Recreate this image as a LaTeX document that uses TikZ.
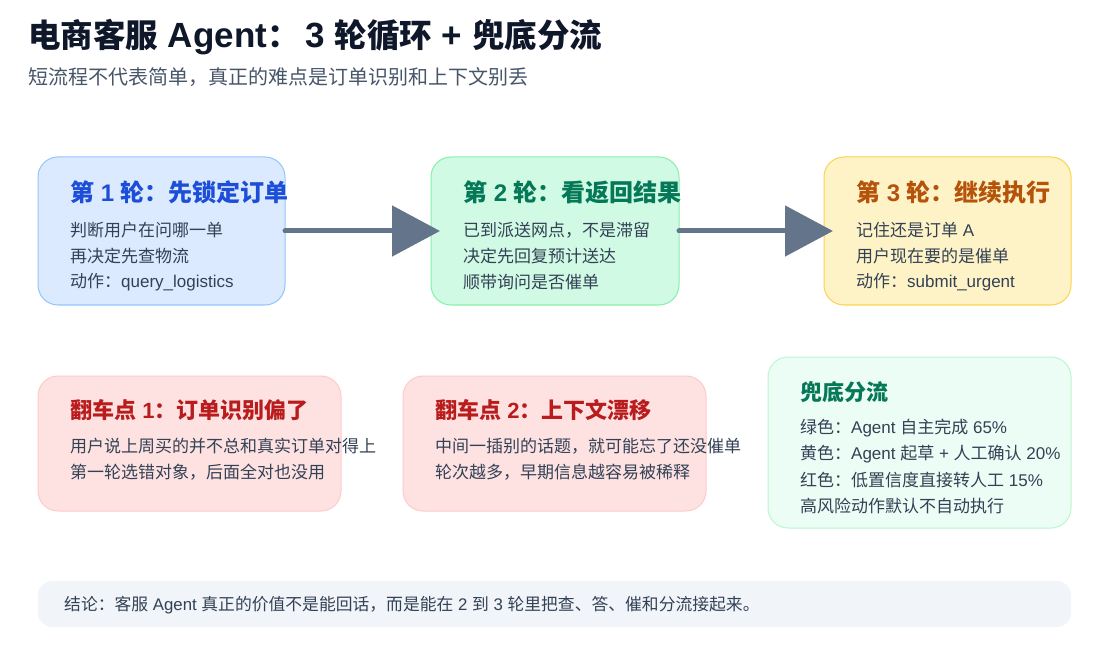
\documentclass[tikz,border=0pt]{standalone}
\usepackage{fontspec}
\setmainfont{Noto Sans CJK SC}
\newfontfamily\latfont{Liberation Sans}
\newcommand{\en}[1]{{\latfont #1}}
\newcommand{\enbig}[1]{{\latfont\fontsize{35}{38}\selectfont #1}}
\usetikzlibrary{arrows.meta}
\definecolor{titlec}{HTML}{0F172A}
\definecolor{subc}{HTML}{475569}
\definecolor{bodyc}{HTML}{334155}
\definecolor{arrowc}{HTML}{64748B}
\definecolor{bluef}{HTML}{DBEAFE}
\definecolor{blued}{HTML}{93C5FD}
\definecolor{bluet}{HTML}{1D4ED8}
\definecolor{greenf}{HTML}{D1FAE5}
\definecolor{greend}{HTML}{86EFAC}
\definecolor{greent}{HTML}{047857}
\definecolor{yellowf}{HTML}{FEF3C7}
\definecolor{yellowd}{HTML}{FCD34D}
\definecolor{yellowt}{HTML}{B45309}
\definecolor{redf}{HTML}{FEE2E2}
\definecolor{redd}{HTML}{FECACA}
\definecolor{redt}{HTML}{B91C1C}
\definecolor{lgreenf}{HTML}{ECFDF5}
\definecolor{lgreend}{HTML}{BBF7D0}
\definecolor{barf}{HTML}{F1F5F9}
\tikzset{
  card/.style={draw, line width=1pt, rounded corners=20pt, inner sep=0pt, outer sep=0pt},
  cardtitle/.style={anchor=west, inner sep=0pt, font=\fontsize{24}{28}\selectfont\bfseries},
  cardbody/.style={anchor=west, inner sep=0pt, text=bodyc, font=\fontsize{17}{20}\selectfont},
  flow/.style={draw=arrowc, line width=5pt, line cap=round, -{Triangle[length=48pt,width=50pt]}}
}
\begin{document}
\begin{tikzpicture}[x=1pt,y=-1pt]
\useasboundingbox[fill=white] (0,0) rectangle (1101,647);
% title
\node[anchor=west, inner sep=0pt, text=titlec, font=\fontsize{32.5}{36}\selectfont\bfseries] (title) at (28,37) {电商客服\enbig{ Agent}：\hspace{6pt}\enbig{3 }轮循环\enbig{ + }兜底分流};
\node[anchor=west, inner sep=0pt, text=subc, font=\fontsize{20}{24}\selectfont] (sub) at (28,77) {短流程不代表简单，真正的难点是订单识别和上下文别丢};
% round cards
\node[card, fill=bluef, draw=blued, minimum width=247pt, minimum height=148pt] (r1) at (161.5,231) {};
\node[card, fill=greenf, draw=greend, minimum width=248pt, minimum height=148pt] (r2) at (555,231) {};
\node[card, fill=yellowf, draw=yellowd, minimum width=247pt, minimum height=148pt] (r3) at (947.5,231) {};
\node[cardtitle, text=bluet] (r1t) at (70,192) {第\en{ 1 }轮：先锁定订单};
\node[cardbody] (r1a) at (70,230) {判断用户在问哪一单};
\node[cardbody] (r1b) at (70,256) {再决定先查物流};
\node[cardbody] (r1c) at (70,282) {动作：\en{query\_logistics}};
\node[cardtitle, text=greent] (r2t) at (463,192) {第\en{ 2 }轮：看返回结果};
\node[cardbody] (r2a) at (463,230) {已到派送网点，不是滞留};
\node[cardbody] (r2b) at (463,256) {决定先回复预计送达};
\node[cardbody] (r2c) at (463,282) {顺带询问是否催单};
\node[cardtitle, text=yellowt] (r3t) at (856,192) {第\en{ 3 }轮：继续执行};
\node[cardbody] (r3a) at (856,230) {记住还是订单\en{ A}};
\node[cardbody] (r3b) at (856,256) {用户现在要的是催单};
\node[cardbody] (r3c) at (856,282) {动作：\en{submit\_urgent}};
% arrows
\coordinate (r2in) at ([xshift=9pt]r2.west);
\coordinate (r3in) at ([xshift=9pt]r3.west);
\draw[flow] (r1.east) -- (r2in);
\draw[flow] (r2.east) -- (r3in);
% pitfalls
\node[card, fill=redf, draw=redd, minimum width=303pt, minimum height=135pt] (p1) at (189.5,443.5) {};
\node[card, fill=redf, draw=redd, minimum width=303pt, minimum height=135pt] (p2) at (554.5,443.5) {};
\node[cardtitle, text=redt, font=\fontsize{22}{26}\selectfont\bfseries] (p1t) at (70,410) {翻车点\en{ 1}：订单识别偏了};
\node[cardbody] (p1a) at (70,446) {用户说上周买的并不总和真实订单对得上};
\node[cardbody] (p1b) at (70,472) {第一轮选错对象，后面全对也没用};
\node[cardtitle, text=redt, font=\fontsize{22}{26}\selectfont\bfseries] (p2t) at (435,410) {翻车点\en{ 2}：上下文漂移};
\node[cardbody] (p2a) at (435,446) {中间一插别的话题，就可能忘了还没催单};
\node[cardbody] (p2b) at (435,472) {轮次越多，早期信息越容易被稀释};
% fallback
\node[card, fill=lgreenf, draw=lgreend, minimum width=303pt, minimum height=171pt] (fb) at (919.5,442.5) {};
\node[cardtitle, text=greent, font=\fontsize{22}{26}\selectfont\bfseries] (fbt) at (800,392) {兜底分流};
\node[cardbody] (fba) at (800,428) {绿色：\en{Agent }自主完成\en{ 65\%}};
\node[cardbody] (fbb) at (800,454) {黄色：\en{Agent }起草\en{ + }人工确认\en{ 20\%}};
\node[cardbody] (fbc) at (800,480) {红色：低置信度直接转人工\en{ 15\%}};
\node[cardbody] (fbd) at (800,506) {高风险动作默认不自动执行};
% conclusion bar
\node[fill=barf, rounded corners=14pt, inner sep=0pt, minimum width=1033pt, minimum height=46pt] (bar) at (554.5,604) {};
\node[anchor=west, inner sep=0pt, text=bodyc, font=\fontsize{16.8}{20}\selectfont] (bart) at (64,605) {结论：客服\en{ Agent }真正的价值不是能回话，而是能在\en{ 2 }到\en{ 3 }轮里把查、答、催和分流接起来。};
\end{tikzpicture}
\end{document}
